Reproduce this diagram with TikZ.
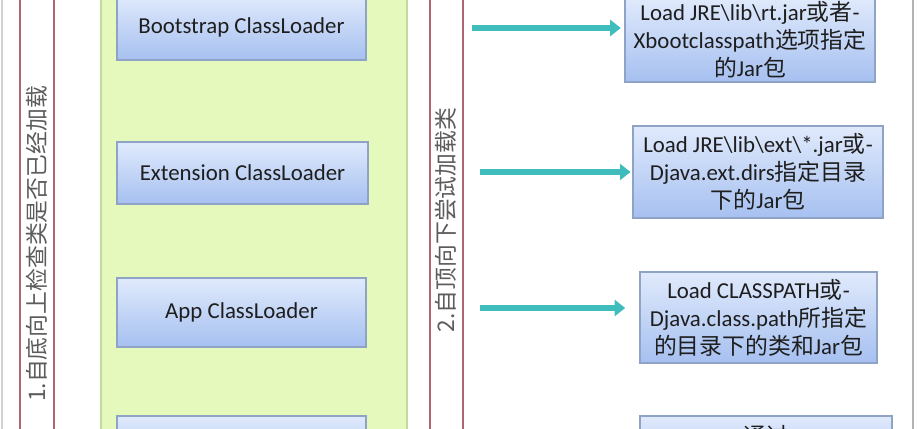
\documentclass[tikz,border=0pt]{standalone}
\usepackage{fontspec}
\setmainfont{Carlito}
\newfontfamily\cjk{Noto Sans CJK SC}
\usetikzlibrary{arrows.meta,calc}

\definecolor{boxtop}{HTML}{E0EAFC}
\definecolor{boxbot}{HTML}{A6C0F0}
\definecolor{boxedge}{HTML}{8FA3C6}
\definecolor{panelfill}{HTML}{E6F9BC}
\definecolor{paneledge}{HTML}{C2DA9E}
\definecolor{framered}{HTML}{B06472}
\definecolor{arrowteal}{HTML}{3FBDBD}
\definecolor{stepgray}{HTML}{5C5C5C}
\definecolor{textgray}{HTML}{1E1E1E}

\newcommand{\zh}[1]{{\cjk #1}}
\newcommand{\bs}{\textbackslash}

\tikzset{
  loader/.style={draw=boxedge, line width=0.8pt, top color=boxtop, bottom color=boxbot,
    inner sep=0pt, text=textgray, font=\fontsize{13}{16}\selectfont},
  boxsize/.style 2 args={minimum width=#1*0.02cm, minimum height=#2*0.02cm},
  pathbox/.style={loader, align=center},
  frame/.style={draw=framered, line width=1.2pt},
  flow/.style={draw=arrowteal, line width=3.2pt, -{Triangle[length=6pt,width=9pt]}},
  steptext/.style={rotate=90, text=stepgray, font=\cjk\fontsize{13}{14}\selectfont},
}

\begin{document}
\begin{tikzpicture}[x=0.02cm,y=-0.02cm]
\clip (0,0) rectangle (917,429);
\fill[white] (0,0) rectangle (917,429);

% outer lines
\draw[draw=black!18, line width=1pt] (2,-5) -- (2,440);
\draw[draw=black!30, line width=1.2pt] (913,-5) -- (913,440);

% step 1: bottom up
\draw[frame] (20,-10) rectangle (54,440);
\node[steptext] (up) at (37,244) {1.自底向上检查类是否已经加载};

% loader panel
\draw[draw=paneledge, fill=panelfill, line width=1pt] (101,-10) rectangle (407,440);
\node[loader, boxsize={249}{65}] (boot) at (241.5,27.5) {Bootstrap ClassLoader};
\node[loader, boxsize={251}{62}] (ext) at (242.5,173) {Extension ClassLoader};
\node[loader, boxsize={249}{69}] (app) at (241.5,312.5) {App ClassLoader};
\node[loader, boxsize={249}{54}] (custom) at (241.5,443) {};

% step 2: top down
\draw[frame] (430,-10) rectangle (463,440);
\node[steptext] (down) at (446,220) {2.自顶向下尝试加载类};

% search paths
\node[pathbox, boxsize={250}{85}] (rt) at (750,39.5)
  {Load JRE\bs lib\bs rt.jar\zh{或者}-\\Xbootclasspath\zh{选项指定}\\\zh{的}Jar\zh{包}};
\node[pathbox, boxsize={250}{92}] (extdir) at (758,172)
  {Load JRE\bs lib\bs ext\bs*.jar\zh{或}-\\Djava.ext.dirs\zh{指定目录}\\\zh{下的}Jar\zh{包}};
\node[pathbox, boxsize={237}{91}] (cp) at (758.5,317.5)
  {Load CLASSPATH\zh{或}-\\Djava.class.path\zh{所指定}\\\zh{的目录下的类和}Jar\zh{包}};
\node[pathbox, boxsize={252}{64}] (user) at (766,448) {};
\node[text=textgray, font=\cjk\fontsize{13}{16}\selectfont, anchor=north] (usertext)
  at ($(user.north)+(0,4)$) {通过};

% arrows
\coordinate (a1) at (472,28);
\coordinate (a2) at (480,172);
\coordinate (a3) at (480,308);
\draw[flow, shorten >=2pt] (a1) -- (a1 -| rt.west);
\draw[flow, shorten >=1pt] (a2) -- (a2 -| extdir.west);
\draw[flow, shorten >=8pt] (a3) -- (a3 -| cp.west);

\end{tikzpicture}
\end{document}
